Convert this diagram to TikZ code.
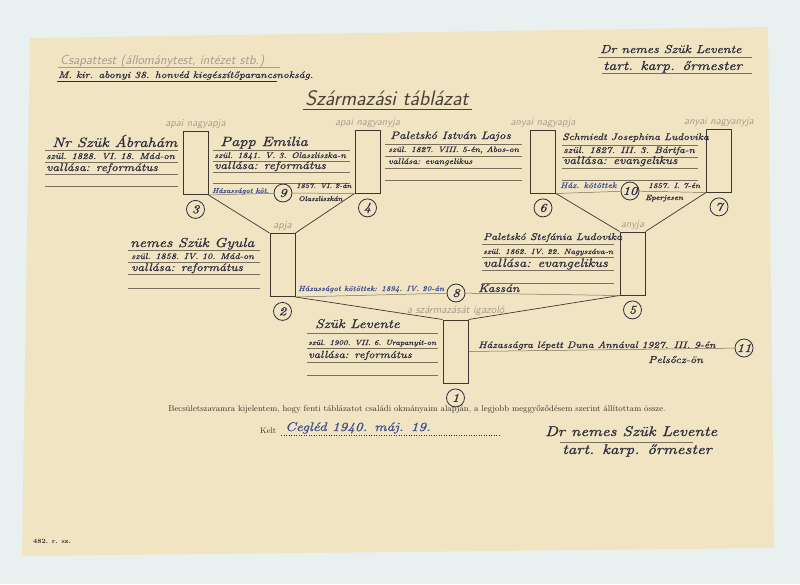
\documentclass[tikz,border=0pt]{standalone}
\usepackage{fontspec}
\newfontfamily\handfont{lmroman10-italic}[Extension=.otf,FakeStretch=1.2,FakeBold=1]
\usetikzlibrary{positioning}
\definecolor{paper}{HTML}{F0E4C3}
\definecolor{backdrop}{HTML}{E9F0F0}
\definecolor{ink}{HTML}{2E2C3C}
\definecolor{blueink}{HTML}{3F4F8E}
\definecolor{print}{HTML}{A69C88}
\definecolor{rulecol}{HTML}{7A6E5C}
\definecolor{frame}{HTML}{3E3630}
\definecolor{type}{HTML}{3A3128}
\definecolor{title}{HTML}{4A4238}

\begin{document}
\begin{tikzpicture}[x=1pt,y=-1pt,node distance=5pt,
    person/.style={draw=frame,line width=1pt,minimum width=25pt,minimum height=63pt,inner sep=0pt},
    num/.style={circle,draw=ink,line width=.8pt,minimum size=18pt,inner sep=0pt,text=ink,font=\fontsize{12}{12}\selectfont\handfont},
    hname/.style={anchor=base west,inner sep=0pt,text=ink,font=\fontsize{#1}{#1}\selectfont\handfont},
    hname/.default=12.5,
    hline/.style={hname=#1},
    hline/.default=9.5,
    printed/.style={inner sep=0pt,text=print,font=\fontsize{#1}{#1}\selectfont\sffamily\itshape},
    printed/.default=10.5,
    ruling/.style={draw=rulecol,line width=.5pt},
    lineage/.style={draw=frame,line width=.7pt}]
  \fill[backdrop] (0,0) rectangle (800,584);
  \useasboundingbox (0,0) rectangle (800,584);
  \fill[paper] (30,38) -- (768,27) -- (774,548) -- (22,556) -- cycle;

  % header
  \node[printed=13,anchor=base west] (unit_h) at (60,64) {Csapattest (állománytest, intézet stb.)};
  \draw[draw=print,line width=.5pt] (58,67) -- (280,67);
  \node[hname=9.5] (unit) at (58,78) {M. kir. abonyi 38. honvéd kiegészítőparancsnokság.};
  \draw[draw=ink,line width=.6pt] (57,81) -- (277,81);
  \node[hname=11.5] (sign_t) at (600,53) {Dr nemes Szük Levente};
  \node[hname=13] (rank_t) at (603,70) {tart. karp. őrmester};
  \draw[ruling] (598,57) -- (752,57) (602,73) -- (752,73);
  \node[anchor=base,inner sep=0pt,text=title,font=\fontsize{21}{21}\selectfont\sffamily\itshape] (title) at (387,105) {Származási táblázat};
  \draw[draw=title,line width=.8pt] (303,109) -- (472,109);

  % boxes
  \node[person] (p_3) at (195.5,163) {};
  \node[person] (p_4) at (367.5,161.5) {};
  \node[person] (p_6) at (543,161.5) {};
  \node[person] (p_7) at (719,160.5) {};
  \node[person] (p_2) at (282.5,265) {};
  \node[person] (p_5) at (632.5,263.5) {};
  \node[person] (p_1) at (455.5,351.5) {};

  \node[num,below=of p_3] (c_3) {3};
  \node[num,below=of p_4] (c_4) {4};
  \node[num,below=of p_6] (c_6) {6};
  \node[num,below=of p_7] (c_7) {7};
  \node[num,below=of p_2] (c_2) {2};
  \node[num,below=of p_5] (c_5) {5};
  \node[num,below=of p_1] (c_1) {1};
  \node[num] (c_9) at (283,193) {9};
  \node[num] (c_10) at (630,191) {10};
  \node[num] (c_8) at (456,293) {8};
  \node[num] (c_11) at (744,348) {11};

  \node[printed,above=2pt of p_3] (l_3) {apai nagyapja};
  \node[printed,above=2pt of p_4] (l_4) {apai nagyanyja};
  \node[printed,above=2pt of p_6] (l_6) {anyai nagyapja};
  \node[printed,above=2pt of p_7] (l_7) {anyai nagyanyja};
  \node[printed,above=2pt of p_2] (l_2) {apja};
  \node[printed,above=2pt of p_5] (l_5) {anyja};
  \node[printed=11,above=4pt of p_1] (l_1) {a származását igazoló};

  \path[lineage]
    (p_3.south east) edge (p_2.north west)
    (p_4.south west) edge (p_2.north east)
    (p_6.south east) edge (p_5.north west)
    (p_7.south west) edge (p_5.north east)
    (p_2.south east) edge (p_1.north west)
    (p_5.south west) edge (p_1.north east);
  \path[ruling]
    (p_3.south east) edge (c_9)
    (c_9) edge (p_4.south west)
    (p_6.south east) edge (c_10)
    (c_10) edge (p_7.south west)
    (p_2.south east) edge (c_8)
    (c_8) edge (p_5.south west)
    (p_1.east) edge (c_11);

  % 3
  \foreach \y in {150,162,174,186} \draw[ruling] (45,\y) -- (178,\y);
  \node[hname=13.5] (name_3) at (52,147) {Nr Szük Ábrahám};
  \node[hline=8.8] (born_3) at (46,159) {szül. 1828. VI. 18. Mád-on};
  \node[hline=11] (rel_3) at (46,171) {vallása: református};
  % 4
  \foreach \y in {150,161,172,183} \draw[ruling] (213,\y) -- (350,\y);
  \node[hname=13.4] (name_4) at (220,146) {Papp Emilia};
  \node[hline=8.1] (born_4) at (214,158) {szül. 1841. V. 3. Olaszliszka-n};
  \node[hline=11] (rel_4) at (214,169) {vallása: református};
  \node[hline=7,text=blueink] (wed_9a) at (212,193) {Házasságot köt.};
  \node[hline=7] (wed_9b) at (296,188) {1857. VI. 2-án};
  \node[hline=7] (wed_9c) at (298,201) {Olaszliszkán};
  % 6
  \foreach \y in {144,156,168,180} \draw[ruling] (385,\y) -- (522,\y);
  \node[hname=10.8] (name_6) at (390,139) {Paletskó István Lajos};
  \node[hline=7.9] (born_6) at (388,152) {szül. 1827. VIII. 5-én, Abos-on};
  \node[hline=8.1] (rel_6) at (388,164) {vallása: evangelikus};
  % 7
  \foreach \y in {145,157,168,180} \draw[ruling] (562,\y) -- (698,\y);
  \node[hname=9.5] (name_7) at (562,140) {Schmiedt Josephina Ludovika};
  \node[hline=9.1] (born_7) at (563,153) {szül. 1827. III. 3. Bártfa-n};
  \node[hline=11] (rel_7) at (563,164) {vallása: evangelikus};
  \node[hline=8,text=blueink] (wed_10a) at (560,188) {Ház. kötöttek};
  \node[hline=7.5] (wed_10b) at (648,188) {1857. I. 7-én};
  \node[hline=7.5] (wed_10c) at (645,200) {Eperjesen};
  % 2
  \foreach \y in {250,262,274,288} \draw[ruling] (128,\y) -- (260,\y);
  \node[hname=13] (name_2) at (130,247) {nemes Szük Gyula};
  \node[hline=8.4] (born_2) at (131,259) {szül. 1858. IV. 10. Mád-on};
  \node[hline=11] (rel_2) at (131,271) {vallása: református};
  \node[hline=7.4,text=blueink] (wed_8a) at (298,291) {Házasságot kötöttek: 1894. IV. 20-án};
  \node[hline=11] (wed_8b) at (478,292) {Kassán};
  % 5
  \foreach \y in {244,257,270,283} \draw[ruling] (482,\y) -- (614,\y);
  \node[hname=9.8] (name_5) at (483,240) {Paletskó Stefánia Ludovika};
  \node[hline=7.6] (born_5) at (483,254) {szül. 1862. IV. 22. Nagyszáva-n};
  \node[hline=12] (rel_5) at (483,267) {vallása: evangelikus};
  % 1
  \foreach \y in {333,348,362,375} \draw[ruling] (307,\y) -- (438,\y);
  \node[hname] (name_1) at (315,328) {Szük Levente};
  \node[hline=7.4] (born_1) at (308,345) {szül. 1900. VII. 6. Urapanyit-on};
  \node[hline=10.2] (rel_1) at (308,358) {vallása: református};
  \node[hline=9.4] (wed_11a) at (478,348) {Házasságra lépett Duna Annával 1927. III. 9-én};
  \node[hline=10] (wed_11b) at (648,363) {Pelsőcz-ön};

  % footer
  \node[anchor=base,inner sep=0pt,text=type,font=\fontsize{8.5}{8.5}\selectfont] (oath) at (417,411) {Becsületszavamra kijelentem, hogy fenti táblázatot családi okmányaim alapján, a legjobb meggyőződésem szerint állítottam össze.};
  \node[anchor=base west,inner sep=0pt,text=type,font=\fontsize{8}{8}\selectfont] (kelt) at (260,433) {Kelt};
  \draw[draw=type,line width=.5pt,dotted] (281,435) -- (500,435);
  \node[hname=12.5,text=blueink] (date) at (285,431) {Cegléd 1940. máj. 19.};
  \node[hname=14] (sign_b) at (545,436) {Dr nemes Szük Levente};
  \draw[ruling] (560,442) -- (693,442);
  \node[hname=14] (rank_b) at (562,454) {tart. karp. őrmester};
  \node[anchor=base west,inner sep=0pt,text=type,font=\fontsize{6.5}{6.5}\selectfont\bfseries] (form) at (33,543) {482. r. sz.};
\end{tikzpicture}
\end{document}
